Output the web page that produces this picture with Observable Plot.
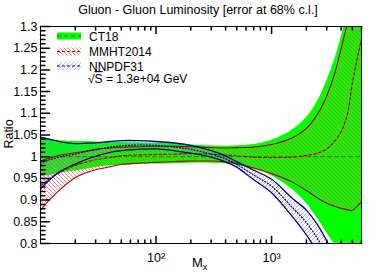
<!DOCTYPE html>
<html>
<head>
<meta charset="utf-8">
<script src="https://cdn.jsdelivr.net/npm/d3@7"></script>
<script src="https://cdn.jsdelivr.net/npm/@observablehq/plot@0.6"></script>
<style>
  html, body { margin: 0; padding: 0; background: #fff; }
  body { width: 374px; height: 275px; overflow: hidden; }
  svg { font-family: "Liberation Sans", Arial, Helvetica, sans-serif; }
</style>
</head>
<body>
<div id="chart"></div>
<script>
// ---- data ----
const mass = [10, 12, 15, 20, 25, 30, 40, 50, 70, 100, 150, 200, 300, 400, 500, 700, 1000, 1500, 2000, 2500, 3000, 3500, 4000, 4500, 5000, 5500, 6000];

const ct18Hi = [1.045, 1.041, 1.037, 1.035, 1.035, 1.034, 1.033, 1.033, 1.032, 1.031, 1.030, 1.027, 1.025, 1.024, 1.025, 1.028, 1.038, 1.061, 1.090, 1.128, 1.174, 1.222, 1.275, 1.335, 1.400, 1.460, 1.520];
const ct18Mid = [1, 1, 1, 1, 1, 1, 1, 1, 1, 1, 1, 1, 1, 1, 1, 1, 1, 1, 1, 1, 1, 1, 1, 1, 1, 1, 1];
const ct18Lo = [0.953, 0.957, 0.962, 0.967, 0.971, 0.975, 0.979, 0.980, 0.982, 0.983, 0.984, 0.985, 0.985, 0.983, 0.980, 0.972, 0.956, 0.925, 0.893, 0.857, 0.825, 0.798, 0.770, 0.740, 0.710, 0.680, 0.650];

const mmhtHi = [0.990, 0.997, 1.004, 1.009, 1.013, 1.017, 1.020, 1.022, 1.023, 1.024, 1.024, 1.023, 1.021, 1.020, 1.021, 1.022, 1.028, 1.043, 1.065, 1.098, 1.140, 1.190, 1.250, 1.305, 1.360, 1.420, 1.480];
const mmhtMid = [0.933, 0.949, 0.965, 0.980, 0.988, 0.993, 0.998, 1.002, 1.004, 1.005, 1.006, 1.007, 1.006, 1.004, 1.002, 0.999, 0.998, 0.999, 1.003, 1.008, 1.018, 1.035, 1.058, 1.095, 1.170, 1.225, 1.272];
const mmhtLo = [0.876, 0.901, 0.926, 0.952, 0.963, 0.970, 0.977, 0.982, 0.985, 0.987, 0.989, 0.990, 0.990, 0.988, 0.984, 0.974, 0.961, 0.942, 0.922, 0.905, 0.893, 0.886, 0.881, 0.878, 0.876, 0.886, 0.896];

const nnpdfHi = [1.045, 1.040, 1.034, 1.030, 1.031, 1.032, 1.035, 1.037, 1.037, 1.035, 1.031, 1.026, 1.014, 1.002, 0.988, 0.969, 0.948, 0.905, 0.877, 0.843, 0.806, 0.770, 0.740, 0.710, 0.680, 0.650, 0.620];
const nnpdfMid = [0.985, 0.993, 1.000, 1.006, 1.012, 1.016, 1.022, 1.025, 1.027, 1.026, 1.022, 1.017, 1.006, 0.995, 0.982, 0.958, 0.932, 0.884, 0.848, 0.811, 0.775, 0.740, 0.710, 0.680, 0.650, 0.620, 0.590];
const nnpdfLo = [0.926, 0.947, 0.967, 0.983, 0.994, 1.001, 1.010, 1.014, 1.017, 1.018, 1.013, 1.008, 0.999, 0.988, 0.976, 0.947, 0.917, 0.863, 0.820, 0.780, 0.745, 0.710, 0.680, 0.650, 0.620, 0.590, 0.560];

const xDomain = [10, 6000];
const yDomain = [0.8, 1.3];
const yMajor = [0.8, 0.85, 0.9, 0.95, 1, 1.05, 1.1, 1.15, 1.2, 1.25, 1.3];
const yMinor = [0.81,0.82,0.83,0.84,0.86,0.87,0.88,0.89,0.91,0.92,0.93,0.94,0.96,0.97,0.98,0.99,1.01,1.02,1.03,1.04,1.06,1.07,1.08,1.09,1.11,1.12,1.13,1.14,1.16,1.17,1.18,1.19,1.21,1.22,1.23,1.24,1.26,1.27,1.28,1.29];
const xMajor = [100, 1000];
const xMajorLabels = ["10²", "10³"];
const xMinor = [20, 30, 40, 50, 60, 70, 80, 90, 200, 300, 400, 500, 600, 700, 800, 900, 2000, 3000, 4000, 5000, 6000];

const title = "Gluon - Gluon Luminosity [error at 68% c.l.]";
const legendNames = ["CT18", "MMHT2014", "NNPDF31"];
const energyLabel = "S = 1.3e+04 GeV";

// ---- table ----
const rows = mass.map((m, i) => ({
  m,
  ct18Hi: ct18Hi[i], ct18Mid: ct18Mid[i], ct18Lo: ct18Lo[i],
  mmhtHi: mmhtHi[i], mmhtMid: mmhtMid[i], mmhtLo: mmhtLo[i],
  nnpdfHi: nnpdfHi[i], nnpdfMid: nnpdfMid[i], nnpdfLo: nnpdfLo[i]
}));

const green = "#00ff00", greenLine = "#2f7a00";
const redLine = "#b00000", redHatch = "#ff4a4a";
const blueLine = "#00008f", blueHatch = "#8080ff";
const curve = "catmull-rom";

const lineShape = { draw(context, l) { context.moveTo(0, 0); context.lineTo(0, -l); } };

const chart = Plot.plot({
  width: 374,
  height: 275,
  marginLeft: 40,
  marginRight: 13,
  marginTop: 26,
  marginBottom: 32,
  style: { fontFamily: "'Liberation Sans', Arial, sans-serif", fontSize: "12.5px", background: "white", overflow: "visible" },
  x: { type: "log", domain: xDomain, axis: null },
  y: { domain: yDomain, axis: null },
  marks: [
    Plot.areaY(rows, { x: "m", y1: "ct18Lo", y2: "ct18Hi", fill: green, curve, clip: true }),
    Plot.areaY(rows, { x: "m", y1: "mmhtLo", y2: "mmhtHi", fill: "url(#hatchRed)", curve, clip: true }),
    Plot.areaY(rows, { x: "m", y1: "nnpdfLo", y2: "nnpdfHi", fill: "url(#hatchBlue)", curve, clip: true }),
    Plot.lineY(rows, { x: "m", y: "ct18Mid", stroke: greenLine, strokeWidth: 1, strokeDasharray: "4,3", curve, clip: true }),
    Plot.lineY(rows, { x: "m", y: "mmhtHi", stroke: redLine, strokeWidth: 1.1, curve, clip: true }),
    Plot.lineY(rows, { x: "m", y: "mmhtLo", stroke: redLine, strokeWidth: 1.1, curve, clip: true }),
    Plot.lineY(rows, { x: "m", y: "mmhtMid", stroke: redLine, strokeWidth: 1.1, strokeDasharray: "3,2", curve, clip: true }),
    Plot.lineY(rows, { x: "m", y: "nnpdfHi", stroke: blueLine, strokeWidth: 1.3, curve, clip: true }),
    Plot.lineY(rows, { x: "m", y: "nnpdfLo", stroke: blueLine, strokeWidth: 1.3, curve, clip: true }),
    Plot.lineY(rows, { x: "m", y: "nnpdfMid", stroke: blueLine, strokeWidth: 1.2, strokeDasharray: "1,2", curve, clip: true }),
    // ticks (ROOT style, drawn inside the frame)
    Plot.vector(yMajor, { x: xDomain[0], y: d => d, length: 9, rotate: 90, anchor: "start", shape: lineShape, stroke: "black" }),
    Plot.vector(yMinor, { x: xDomain[0], y: d => d, length: 4.5, rotate: 90, anchor: "start", shape: lineShape, stroke: "black" }),
    Plot.vector(xMajor, { x: d => d, y: yDomain[0], length: 7, rotate: 0, anchor: "start", shape: lineShape, stroke: "black" }),
    Plot.vector(xMinor, { x: d => d, y: yDomain[0], length: 3.5, rotate: 0, anchor: "start", shape: lineShape, stroke: "black" }),
    Plot.vector(xMajor, { x: d => d, y: yDomain[1], length: 7, rotate: 180, anchor: "start", shape: lineShape, stroke: "black" }),
    Plot.vector(xMinor, { x: d => d, y: yDomain[1], length: 3.5, rotate: 180, anchor: "start", shape: lineShape, stroke: "black" }),
    Plot.frame({ stroke: "black", strokeWidth: 1 }),
    // tick labels
    Plot.text(yMajor, { x: xDomain[0], y: d => d, text: d => String(d), textAnchor: "end", dx: -3, fontSize: 12.5, fill: "black" }),
    Plot.text(xMajor, { x: d => d, y: yDomain[0], text: (d, i) => xMajorLabels[i], dy: 14, fontSize: 12.5, fill: "black" })
  ]
});

document.getElementById("chart").appendChild(chart);

const svg = d3.select(chart);
const defs = svg.insert("defs", ":first-child");
const pr = defs.append("pattern").attr("id", "hatchRed").attr("patternUnits", "userSpaceOnUse").attr("width", 4).attr("height", 4);
pr.append("path").attr("d", "M-1,-1L5,5M-1,3L1,5M3,-1L5,1").attr("stroke", redHatch).attr("stroke-width", 0.7).attr("fill", "none");
const pb = defs.append("pattern").attr("id", "hatchBlue").attr("patternUnits", "userSpaceOnUse").attr("width", 4).attr("height", 4);
pb.append("path").attr("d", "M-1,5L5,-1M-1,1L1,-1M3,5L5,3").attr("stroke", blueHatch).attr("stroke-width", 0.6).attr("fill", "none");

// title
svg.append("text").attr("x", 198).attr("y", 14).attr("text-anchor", "middle")
  .attr("font-size", 12.5).attr("fill", "black").text(title);

// axis titles
const mx = svg.append("text").attr("x", 192).attr("y", 267).attr("text-anchor", "start").attr("font-size", 13).attr("fill", "black");
mx.append("tspan").text("M");
mx.append("tspan").attr("font-size", 9).attr("dy", 3).text("x");
svg.append("text").attr("transform", "translate(13,134) rotate(-90)").attr("text-anchor", "middle")
  .attr("font-size", 12.5).attr("fill", "black").text("Ratio");

// legend
const leg = svg.append("g").attr("text-anchor", "start");
const boxes = [
  { y: 32.5, h: 7, fill: green, line: greenLine, dash: "4,3" },
  { y: 47.5, h: 8, fill: "url(#hatchRed)", line: redLine, dash: "3,2" },
  { y: 62, h: 8, fill: "url(#hatchBlue)", line: blueLine, dash: "3,2" }
];
boxes.forEach((b, i) => {
  leg.append("rect").attr("x", 57).attr("y", b.y).attr("width", 24).attr("height", b.h).attr("fill", b.fill);
  leg.append("line").attr("x1", 57).attr("x2", 81).attr("y1", b.y + b.h / 2).attr("y2", b.y + b.h / 2)
    .attr("stroke", b.line).attr("stroke-width", 1).attr("stroke-dasharray", b.dash);
  leg.append("text").attr("x", 89).attr("y", b.y + b.h / 2 + 4.5).attr("text-anchor", "start").attr("font-size", 12).attr("fill", "black").text(legendNames[i]);
});
const en = leg.append("text").attr("x", 88).attr("y", 83).attr("text-anchor", "start").attr("font-size", 12).attr("fill", "black");
en.append("tspan").text("√");
en.append("tspan").attr("text-decoration", "overline").text("S");
en.append("tspan").text(energyLabel.slice(1));
</script>
</body>
</html>
